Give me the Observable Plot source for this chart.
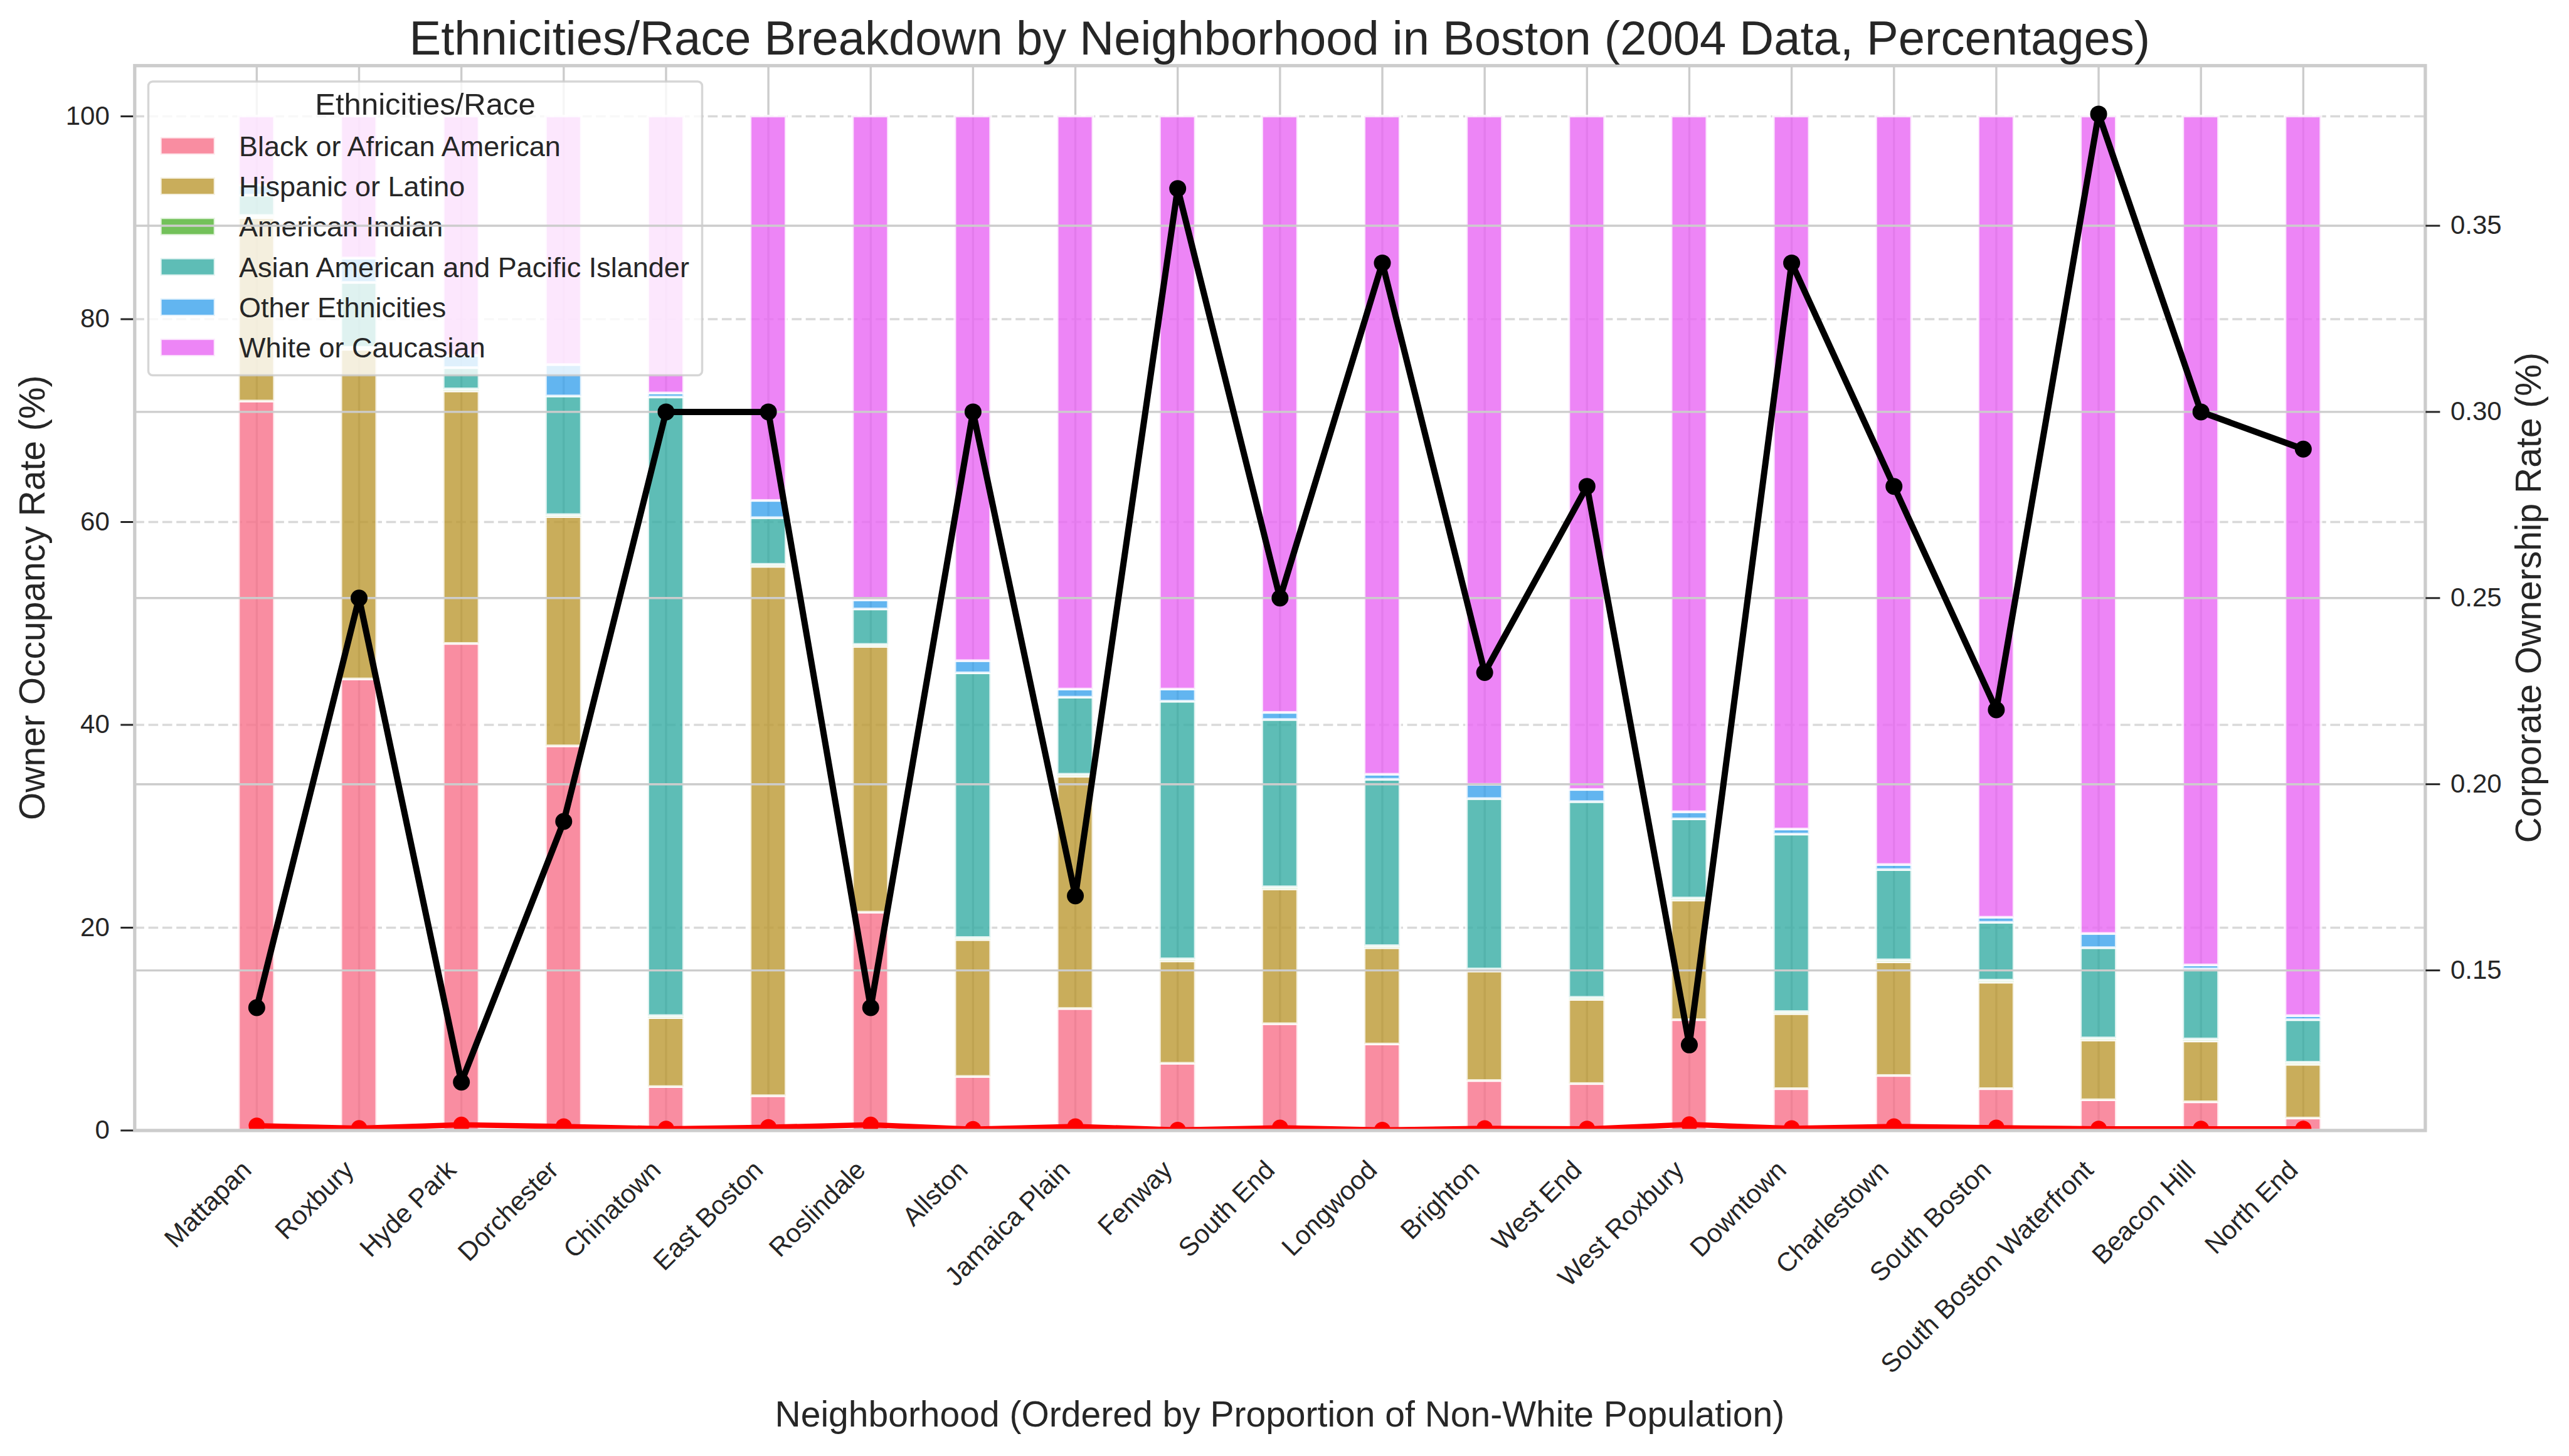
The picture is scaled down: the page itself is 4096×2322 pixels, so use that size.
<!DOCTYPE html>
<html>
<head>
<meta charset="utf-8">
<script src="https://cdn.jsdelivr.net/npm/d3@7"></script>
<script src="https://cdn.jsdelivr.net/npm/@observablehq/plot@0.6"></script>
<style>
  html, body { margin: 0; padding: 0; background: #fff; overflow: hidden; }
  #chart { position: relative; width: 4096px; height: 2322px; }
  #chart > svg, #chart > figure { position: absolute; left: 0; top: 0; margin: 0; }
</style>
</head>
<body>
<div id="chart"></div>
<script>
// ---------------- data ----------------
const neighborhoods = ["Mattapan","Roxbury","Hyde Park","Dorchester","Chinatown","East Boston","Roslindale","Allston","Jamaica Plain","Fenway","South End","Longwood","Brighton","West End","West Roxbury","Downtown","Charlestown","South Boston","South Boston Waterfront","Beacon Hill","North End"];
const categories = ["Black or African American","Hispanic or Latino","American Indian","Asian American and Pacific Islander","Other Ethnicities","White or Caucasian"];
const black          = [71.9,44.5,48.0,37.9,4.3,3.4,21.5,5.3,12.0,6.6,10.5,8.5,4.9,4.6,10.9,4.1,5.4,4.1,3.0,2.8,1.2];
const hispanic       = [18.1,32.5,24.9,22.6,6.8,52.2,26.2,13.5,22.9,10.1,13.3,9.5,10.8,8.3,11.8,7.4,11.2,10.5,5.9,6.0,5.3];
const americanIndian = [0.2,0.2,0.2,0.2,0.2,0.2,0.2,0.2,0.2,0.2,0.2,0.2,0.2,0.2,0.2,0.2,0.2,0.2,0.2,0.2,0.2];
const asian          = [2.0,6.4,2.1,11.7,61.0,4.6,3.5,26.1,7.6,25.4,16.5,16.4,16.8,19.3,7.8,17.5,8.9,5.7,8.9,6.9,4.2];
const other          = [1.0,2.4,1.2,3.1,0.4,1.7,0.9,1.2,0.8,1.2,0.7,0.5,1.4,1.2,0.7,0.5,0.5,0.5,1.4,0.4,0.4];
const white          = [6.8,14.0,23.6,24.5,27.3,37.9,47.7,53.7,56.5,56.5,58.8,64.9,65.9,66.4,68.6,70.3,73.8,79.0,80.6,83.7,88.7];
const ownerOccupancy = [0.47,0.22,0.56,0.40,0.17,0.32,0.56,0.13,0.40,0.06,0.27,0.06,0.21,0.16,0.59,0.21,0.40,0.27,0.16,0.16,0.16];
const corporateOwnership = [0.14,0.25,0.12,0.19,0.30,0.30,0.14,0.30,0.17,0.36,0.25,0.34,0.23,0.28,0.13,0.34,0.28,0.22,0.38,0.30,0.29];
const leftTicks  = [0,20,40,60,80,100];
const rightTicks = [0.15,0.20,0.25,0.30,0.35];

// ---------------- style ----------------
const colors = ["#f77189","#bb9832","#50b131","#36ada4","#3ba3ec","#e866f4"];
const FONT = "'Liberation Sans', Arial, Helvetica, sans-serif";
const TEXT = "#262626";
const W = 4096, H = 2322;
const mL = 214.3, mR = 229.6, mT = 104.2, mB = 519.6;
const barW = 0.35;
const xDomain = [-0.175 - 0.05 * 20.35, 20.175 + 0.05 * 20.35];

// ---------------- tables ----------------
const series = [black, hispanic, americanIndian, asian, other, white];
const idx = d3.range(neighborhoods.length);
const rows = [];
idx.forEach(i => {
  let acc = 0;
  series.forEach((s, k) => {
    rows.push({i, cat: categories[k], y1: acc, y2: acc + s[i]});
    acc += s[i];
  });
});
const ownerRows = idx.map(i => ({i, v: ownerOccupancy[i]}));
const corpRows = idx.map(i => ({i, v: corporateOwnership[i]}));

const chart = document.getElementById("chart");

// ---------------- primary axes ----------------
const p1 = Plot.plot({
  width: W, height: H,
  marginLeft: mL, marginRight: mR, marginTop: mT, marginBottom: mB,
  x: {type: "linear", domain: xDomain, label: null},
  y: {domain: [0, 105], label: null},
  color: {domain: categories, range: colors},
  style: {fontFamily: FONT, color: TEXT, background: "white", overflow: "visible"},
  marks: [
    Plot.ruleY(leftTicks, {stroke: "#cccccc", strokeOpacity: 0.75, strokeWidth: 3.4, strokeDasharray: "15.6,6.7"}),
    Plot.ruleX(idx, {stroke: "#cccccc", strokeWidth: 3.4}),
    Plot.rectY(rows, {x1: d => d.i - barW / 2, x2: d => d.i + barW / 2, y1: "y1", y2: "y2", fill: "cat", fillOpacity: 0.8, stroke: "white", strokeOpacity: 0.8, strokeWidth: 4.2}),
    Plot.line(ownerRows, {x: "i", y: "v", stroke: "red", strokeWidth: 8.5, clip: true}),
    Plot.dot(ownerRows, {x: "i", y: "v", fill: "red", r: 13, clip: true}),
    Plot.axisY(leftTicks, {anchor: "left", tickSize: 22, tickPadding: 18, fontSize: 42, strokeWidth: 3, label: null}),
    Plot.axisX(idx, {anchor: "bottom", tickSize: 0, tickPadding: 56, tickRotate: -45, textAnchor: "end", lineAnchor: "middle", dx: -15.5, fontSize: 42, tickFormat: i => neighborhoods[i], label: null})
  ]
});
chart.appendChild(p1);

// ---------------- legend (inside primary axes) ----------------
const leg = d3.create("svg").attr("width", W).attr("height", H)
  .style("position", "absolute").style("left", "0px").style("top", "0px")
  .attr("font-family", FONT);
leg.append("rect").attr("x", 236.5).attr("y", 130).attr("width", 883).attr("height", 468.6)
  .attr("rx", 7).attr("fill", "white").attr("fill-opacity", 0.8)
  .attr("stroke", "#cccccc").attr("stroke-opacity", 0.8).attr("stroke-width", 3.5);
leg.append("text").attr("x", 678).attr("y", 182.5).attr("text-anchor", "middle")
  .attr("font-size", 49).attr("fill", TEXT).text("Ethnicities/Race");
categories.forEach((c, k) => {
  const base = 248.7 + k * 64.3;
  leg.append("rect").attr("x", 255.7).attr("y", base - 30).attr("width", 87).attr("height", 28)
    .attr("fill", colors[k]).attr("fill-opacity", 0.8)
    .attr("stroke", "white").attr("stroke-opacity", 0.8).attr("stroke-width", 4);
  leg.append("text").attr("x", 381).attr("y", base).attr("font-size", 45).attr("fill", TEXT).text(c);
});
chart.appendChild(leg.node());

// ---------------- secondary axes ----------------
const p2 = Plot.plot({
  width: W, height: H,
  marginLeft: mL, marginRight: mR, marginTop: mT, marginBottom: mB,
  x: {type: "linear", domain: xDomain, axis: null, label: null},
  y: {domain: [0.107, 0.393], label: null},
  style: {fontFamily: FONT, color: TEXT, background: "transparent", overflow: "visible"},
  marks: [
    Plot.ruleY(rightTicks, {stroke: "#cccccc", strokeWidth: 3.4}),
    Plot.frame({stroke: "#cccccc", strokeWidth: 5.3}),
    Plot.line(corpRows, {x: "i", y: "v", stroke: "black", strokeWidth: 10}),
    Plot.dot(corpRows, {x: "i", y: "v", fill: "black", r: 13.5}),
    Plot.axisY(rightTicks, {anchor: "right", tickSize: 23, tickPadding: 17, fontSize: 42, strokeWidth: 3, tickFormat: d3.format(".2f"), label: null})
  ]
});
chart.appendChild(p2);

// ---------------- titles ----------------
const txt = d3.create("svg").attr("width", W).attr("height", H)
  .style("position", "absolute").style("left", "0px").style("top", "0px")
  .style("pointer-events", "none").attr("font-family", FONT).attr("fill", TEXT);
const cx = (mL + (W - mR)) / 2, cy = (mT + (H - mB)) / 2;
txt.append("text").attr("x", cx).attr("y", 87).attr("text-anchor", "middle").attr("font-size", 76)
  .text("Ethnicities/Race Breakdown by Neighborhood in Boston (2004 Data, Percentages)");
txt.append("text").attr("x", cx).attr("y", 2275).attr("text-anchor", "middle").attr("font-size", 57)
  .text("Neighborhood (Ordered by Proportion of Non-White Population)");
txt.append("text").attr("transform", `translate(71,${cy}) rotate(-90)`).attr("text-anchor", "middle").attr("font-size", 57)
  .text("Owner Occupancy Rate (%)");
txt.append("text").attr("transform", `translate(4051,${cy}) rotate(-90)`).attr("text-anchor", "middle").attr("font-size", 57)
  .text("Corporate Ownership Rate (%)");
chart.appendChild(txt.node());
</script>
</body>
</html>
